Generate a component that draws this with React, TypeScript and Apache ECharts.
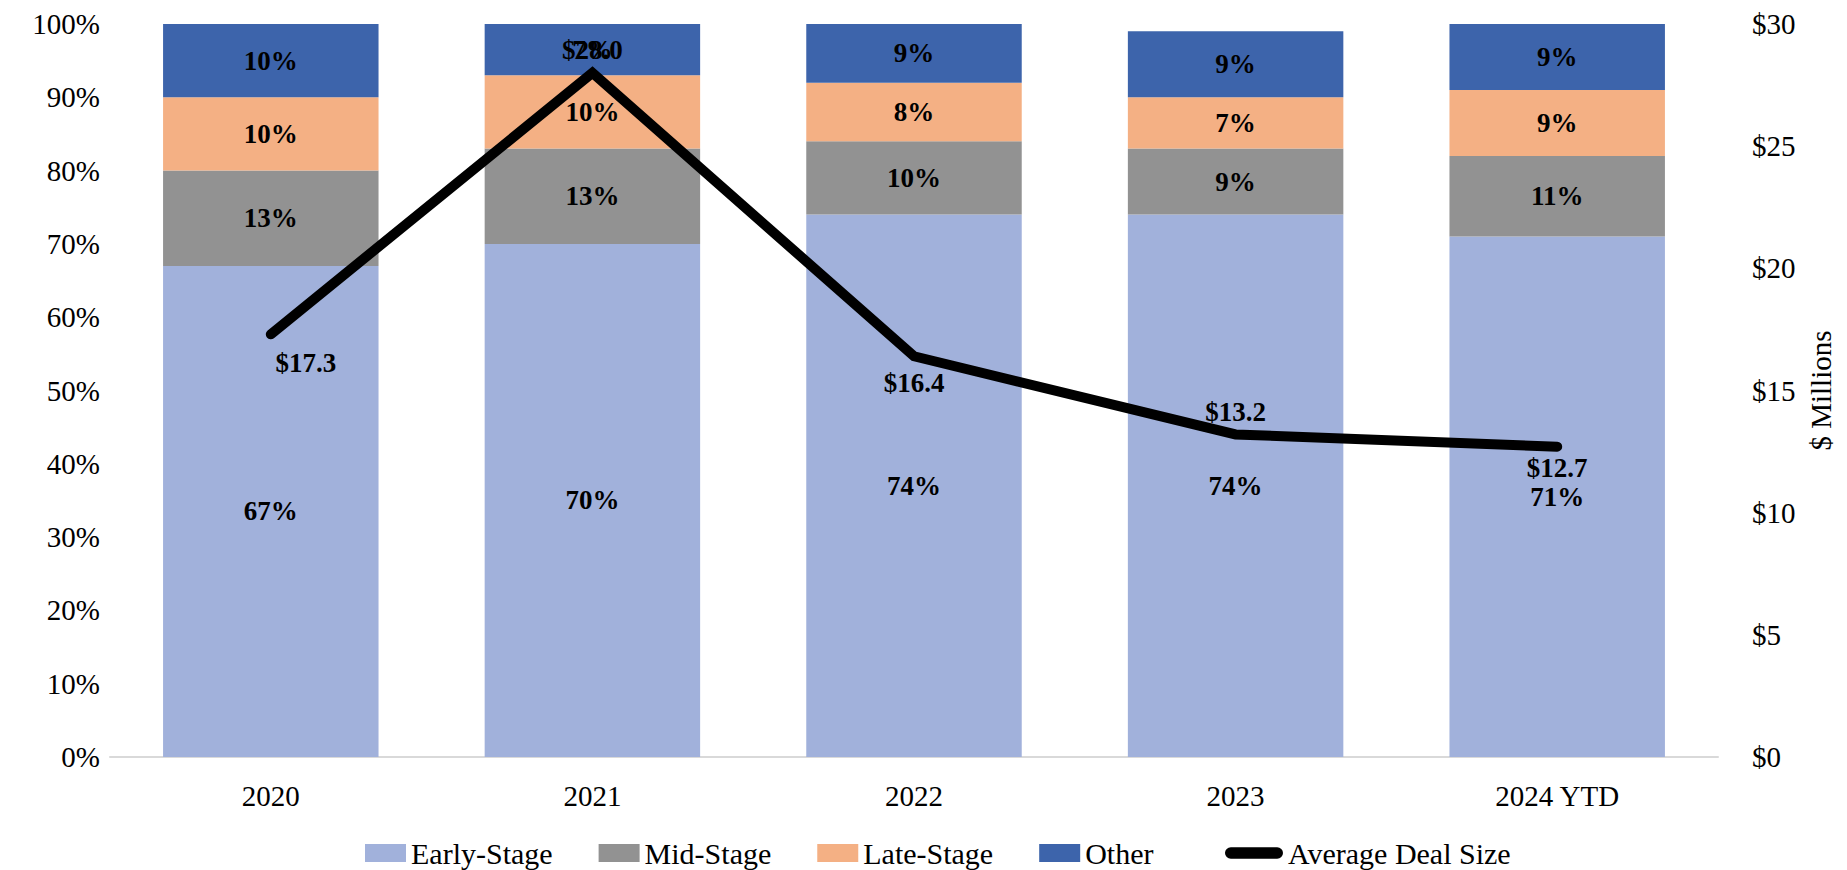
import React, { useEffect, useRef } from "react";
import * as echarts from "echarts";

const categories = ["2020", "2021", "2022", "2023", "2024 YTD"];
const earlyStage = [67, 70, 74, 74, 71];
const midStage = [13, 13, 10, 9, 11];
const lateStage = [10, 10, 8, 7, 9];
const otherStage = [10, 7, 9, 9, 9];
const avgDealSize = [17.3, 28.0, 16.4, 13.2, 12.7];

const lineLabelOffsets: [number, number][] = [
  [35, 29],
  [0, -23],
  [0, 27],
  [0, -22],
  [0, 21],
];

const FONT = "'Liberation Serif', 'DejaVu Serif', serif";

export default function App() {
  const ref = useRef<HTMLDivElement>(null);
  useEffect(() => {
    document.body.style.margin = "0";
    const chart = echarts.init(ref.current!, null, { renderer: "svg" });
    const barLabel = {
      show: true,
      position: "inside",
      color: "#000",
      fontFamily: FONT,
      fontWeight: "bold",
      fontSize: 27,
      formatter: (p: any) => `${p.value}%`,
    };
    const mkBar = (name: string, data: number[], color: string) => ({
      name,
      type: "bar",
      stack: "s",
      data,
      barCategoryGap: "33%",
      itemStyle: { color },
      label: barLabel,
      yAxisIndex: 0,
    });
    chart.setOption({
      animation: false,
      textStyle: { fontFamily: FONT },
      grid: { left: 110, right: 129, top: 24, bottom: 113, containLabel: false },
      legend: [
        {
          data: ["Early-Stage", "Mid-Stage", "Late-Stage", "Other"],
          left: 365,
          top: 838,
          padding: 0,
          itemWidth: 41,
          itemHeight: 18,
          itemGap: 46,
          icon: "rect",
          textStyle: { fontFamily: FONT, fontSize: 30, color: "#000" },
        },
        {
          data: [{ name: "Average Deal Size", icon: "path://M6,0 L54,0 A6,6 0 0 1 54,12 L6,12 A6,6 0 0 1 6,0 Z" }],
          left: 1225,
          top: 838,
          padding: 0,
          itemWidth: 58,
          itemHeight: 12,
          itemStyle: { color: "#000" },
          textStyle: { fontFamily: FONT, fontSize: 30, color: "#000" },
        },
      ],
      xAxis: {
        type: "category",
        data: categories,
        axisLine: { lineStyle: { color: "#d9d9d9", width: 2 } },
        axisTick: { show: false },
        axisLabel: { color: "#000", fontFamily: FONT, fontSize: 29, margin: 24 },
      },
      yAxis: [
        {
          type: "value",
          min: 0,
          max: 100,
          interval: 10,
          axisLine: { show: false },
          axisTick: { show: false },
          splitLine: { show: false },
          axisLabel: { color: "#000", fontFamily: FONT, fontSize: 29, margin: 10, formatter: "{value}%" },
        },
        {
          type: "value",
          min: 0,
          max: 30,
          interval: 5,
          position: "right",
          name: "$ Millions",
          nameLocation: "middle",
          nameRotate: 90,
          nameGap: 73,
          nameTextStyle: { color: "#000", fontFamily: FONT, fontSize: 29 },
          axisLine: { show: false },
          axisTick: { show: false },
          splitLine: { show: false },
          axisLabel: { color: "#000", fontFamily: FONT, fontSize: 29, margin: 34, formatter: (v: number) => `$${v}` },
        },
      ],
      series: [
        mkBar("Early-Stage", earlyStage, "#a1b1db"),
        mkBar("Mid-Stage", midStage, "#929292"),
        mkBar("Late-Stage", lateStage, "#f4b084"),
        mkBar("Other", otherStage, "#3d64ab"),
        {
          name: "Average Deal Size",
          type: "line",
          yAxisIndex: 1,
          symbol: "circle",
          symbolSize: 1,
          z: 5,
          itemStyle: { color: "#000" },
          lineStyle: { color: "#000", width: 10, cap: "round", join: "miter" },
          data: avgDealSize.map((v, i) => ({ value: v, label: { offset: lineLabelOffsets[i] } })),
          label: {
            show: true,
            position: "inside",
            color: "#000",
            fontFamily: FONT,
            fontWeight: "bold",
            fontSize: 27,
            formatter: (p: any) => `$${Number(p.value).toFixed(1)}`,
          },
        },
      ],
    });
    return () => chart.dispose();
  }, []);
  return <div ref={ref} style={{ position: "absolute", left: 0, top: 0, width: 1847, height: 870 }} />;
}
